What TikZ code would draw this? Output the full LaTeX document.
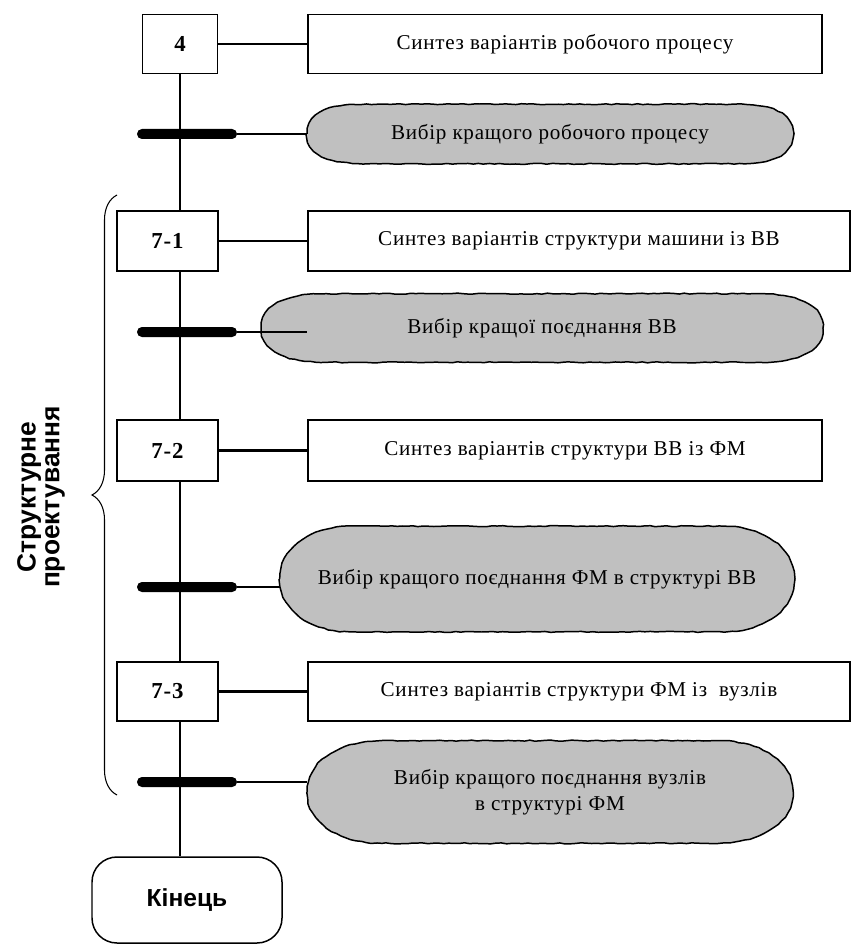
\documentclass[tikz,border=0pt]{standalone}
\usepackage{fontspec}
\setmainfont{Liberation Serif}[LetterSpace=3.5]
\newfontfamily\headfont{Liberation Sans}
\usetikzlibrary{calc,backgrounds,decorations.pathmorphing,decorations.pathreplacing}
\definecolor{shade}{HTML}{C0C0C0}
\pgfmathsetseed{11}
\tikzset{
  stage/.style={draw, line width=0.75pt, fill=white, minimum width=2.02cm, minimum height=1.2cm, font=\fontsize{13}{15}\selectfont\bfseries},
  task/.style={draw, line width=0.75pt, minimum height=1.2cm, font=\fontsize{12}{14}\selectfont},
  choice/.style={inner sep=0pt, align=center, font=\fontsize{12}{14.5}\selectfont},
  outline/.style={draw, fill=shade, line width=0.85pt, decorate, decoration={random steps, segment length=3pt, amplitude=0.3pt}},
  bar/.style={fill, rounded corners=2.8pt, minimum width=2cm, minimum height=0.2cm, inner sep=0pt},
  finish/.style={draw, line width=0.85pt, rounded corners=0.5cm, minimum width=3.8cm, minimum height=1.72cm, font=\headfont\bfseries\fontsize{14}{16}\selectfont},
  link/.style={line width=1.4pt},
  feed/.style={line width=0.6pt},
}
\begin{document}
\begin{tikzpicture}
\useasboundingbox (0,0) rectangle (17.12,-18.88);
% stages and synthesis tasks
\node[stage, minimum width=1.5cm, minimum height=1.18cm] (b4) at (3.6,-0.88) {4};
\node[task, minimum width=10.28cm, minimum height=1.18cm] (s4) at (11.3,-0.88) {Синтез варіантів робочого процесу};
\node[stage] (b71) at (3.35,-4.82) {7-1};
\node[task, minimum width=10.84cm] (s71) at (11.58,-4.82) {Синтез варіантів структури машини із ВВ};
\node[stage, minimum height=1.22cm] (b72) at (3.35,-9.01) {7-2};
\node[task, minimum width=10.28cm, minimum height=1.22cm] (s72) at (11.3,-9.01) {Синтез варіантів структури ВВ із ФМ};
\node[stage, minimum height=1.18cm] (b73) at (3.35,-13.83) {7-3};
\node[task, minimum width=10.84cm, minimum height=1.18cm] (s73) at (11.58,-13.83) {Синтез варіантів структури ФМ із \ вузлів};
\node[finish] (end) at (3.74,-18.0) {Кінець};
% choices
\node[choice, minimum width=9.7cm, minimum height=1.18cm] (e1) at (11.0,-2.68) {Вибір кращого робочого процесу};
\node[choice, minimum width=11.22cm, minimum height=1.36cm] (e2) at (10.84,-6.56) {Вибір кращої поєднання ВВ};
\node[choice, minimum width=10.28cm, minimum height=2.1cm] (e3) at (10.74,-11.58) {Вибір кращого поєднання ФМ в структурі ВВ};
\node[choice, minimum width=9.7cm, minimum height=2.04cm] (e4) at (11.0,-15.84) {Вибір кращого поєднання вузлів\\в структурі ФМ};
\begin{scope}[on background layer]
\foreach \n/\c in {e1/1.44,e2/1.3,e3/1.4,e4/1.5}
  \draw[outline] (\n.west) to[out=90,in=180] ($(\n.north west)+(\c,0)$) -- ($(\n.north east)-(\c,0)$)
    to[out=0,in=90] (\n.east) to[out=-90,in=0] ($(\n.south east)-(\c,0)$) -- ($(\n.south west)+(\c,0)$)
    to[out=180,in=-90] cycle;
\end{scope}
% bars
\node[bar] (k1) at (3.74,-2.68) {};
\node[bar] (k2) at (3.74,-6.64) {};
\node[bar] (k3) at (3.74,-11.74) {};
\node[bar] (k4) at (3.74,-15.64) {};
% main line
\draw[line width=0.75pt] (b4.south) -- (b4.south |- b71.north);
\foreach \a/\b in {b71/b72,b72/b73,b73/end}
  \draw[line width=0.75pt] (b4.south |- \a.south) -- (b4.south |- \b.north);
% connectors
\foreach \a/\b in {b4/s4,b71/s71,b72/s72,b73/s73}
  \draw[link] (\a.east) -- (\b.west);
\draw[feed] (k1.east) -- (e1.west);
\draw[feed] (k2.east) -- (k2.east -| s71.west);
\draw[feed] (k3.east) -- (k3.east -| e3.west);
\draw[feed] (k4.east) -- (k4.east -| e4.west);
% brace and its label
\coordinate (bb) at (2.34,-15.9);
\coordinate (bt) at (2.34,-3.9);
\draw[line width=0.6pt, decorate, decoration={brace, amplitude=0.5cm, aspect=0.5}] (bb) -- (bt);
\node[rotate=90, align=center, font=\headfont\bfseries\fontsize{15}{13.5}\selectfont] (lbl) at (0.82,-9.94) {Структурне\\проектування};
\end{tikzpicture}
\end{document}
